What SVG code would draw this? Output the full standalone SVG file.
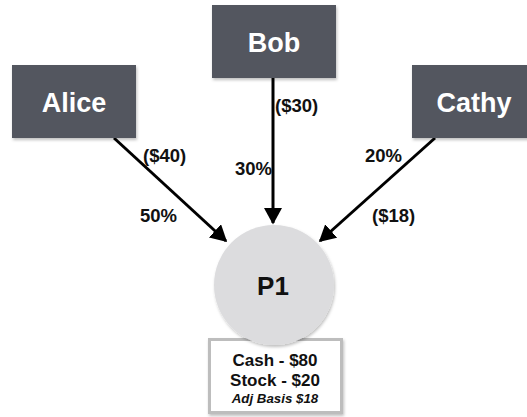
<svg xmlns="http://www.w3.org/2000/svg" width="527" height="417" viewBox="0 0 527 417">
<defs>
<style>
.person rect{fill:#53575e;}
.person text{fill:#ffffff;font-family:"Liberation Sans",Arial,sans-serif;font-weight:bold;font-size:27px;text-anchor:middle;}
.conn line{stroke:#000;stroke-width:3;marker-end:url(#arr);}
.lbl{font-family:"Liberation Sans",Arial,sans-serif;font-weight:bold;font-size:18.5px;fill:#111;}
.info{font-family:"Liberation Sans",Arial,sans-serif;font-weight:bold;fill:#111;text-anchor:middle;}
</style>
<marker id="arr" markerWidth="6" markerHeight="6" refX="5" refY="3" orient="auto" markerUnits="strokeWidth">
<path d="M0,0 L5.5,3 L0,6 Z" fill="#000"/>
</marker>
<filter id="sh" x="-10%" y="-10%" width="130%" height="130%">
<feDropShadow dx="1" dy="2" stdDeviation="1.5" flood-color="#000" flood-opacity="0.25"/>
</filter>
</defs>
<g id="connectors" class="conn">
<line x1="114" y1="138" x2="226" y2="241"/>
<line x1="273" y1="78" x2="273" y2="223"/>
<line x1="435" y1="138" x2="320" y2="241"/>
</g>
<g id="labels">
<text class="lbl" x="143" y="162">($40)</text>
<text class="lbl" x="140" y="222">50%</text>
<text class="lbl" x="235" y="175">30%</text>
<text class="lbl" x="275" y="112">($30)</text>
<text class="lbl" x="365" y="162">20%</text>
<text class="lbl" x="372" y="222">($18)</text>
</g>
<g id="alice" class="person">
<rect x="12" y="65" width="124" height="73" filter="url(#sh)"/>
<text x="74" y="112">Alice</text>
</g>
<g id="bob" class="person">
<rect x="212" y="5" width="124" height="73" filter="url(#sh)"/>
<text x="274" y="52">Bob</text>
</g>
<g id="cathy" class="person">
<rect x="412" y="65" width="124" height="73" filter="url(#sh)"/>
<text x="474" y="112">Cathy</text>
</g>
<g id="assets">
<rect x="209.5" y="339.5" width="132" height="73" fill="#fff" stroke="#bdbdbd" stroke-width="3" filter="url(#sh)"/>
<text class="info" x="275" y="366" font-size="17">Cash - $80</text>
<text class="info" x="275" y="386" font-size="17">Stock - $20</text>
<text class="info" x="275" y="403" font-size="13.3" font-style="italic">Adj Basis $18</text>
</g>
<g id="p1">
<circle cx="274" cy="285" r="60" fill="#dcdcde" filter="url(#sh)"/>
<text x="273" y="295" font-family="Liberation Sans, Arial, sans-serif" font-weight="bold" font-size="26" text-anchor="middle" fill="#111">P1</text>
</g>
</svg>
